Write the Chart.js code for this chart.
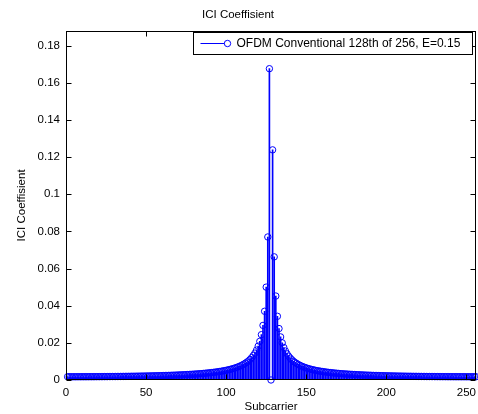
<!DOCTYPE html>
<html>
<head>
<meta charset="utf-8">
<title>ICI Coeffisient</title>
<script src="https://cdn.jsdelivr.net/npm/chart.js@4"></script>
<style>
  html, body { margin: 0; padding: 0; background: #fff; }
  canvas { display: block; }
</style>
</head>
<body>
<canvas id="chart" width="478" height="414"></canvas>
<script>
// subcarrier index 1..256 (the 128th is the desired one)
const subcarriers = Array.from({ length: 256 }, (_, i) => i + 1);

// ICI coefficient, one value per subcarrier
const iciCoefficient = [
  0.00175, 0.00175, 0.00175, 0.00175, 0.00175, 0.00175, 0.00176, 0.00176, 0.00176, 0.00176, 0.00177, 0.00177, 0.00177, 0.00178, 0.00178, 0.00178,
  0.00179, 0.00179, 0.00180, 0.00180, 0.00181, 0.00181, 0.00182, 0.00183, 0.00183, 0.00184, 0.00185, 0.00186, 0.00187, 0.00187, 0.00188, 0.00189,
  0.00190, 0.00191, 0.00192, 0.00193, 0.00195, 0.00196, 0.00197, 0.00198, 0.00200, 0.00201, 0.00202, 0.00204, 0.00205, 0.00207, 0.00209, 0.00210,
  0.00212, 0.00214, 0.00216, 0.00218, 0.00220, 0.00222, 0.00224, 0.00226, 0.00229, 0.00231, 0.00233, 0.00236, 0.00239, 0.00241, 0.00244, 0.00247,
  0.00250, 0.00254, 0.00257, 0.00260, 0.00264, 0.00268, 0.00272, 0.00276, 0.00280, 0.00284, 0.00289, 0.00294, 0.00299, 0.00304, 0.00309, 0.00315,
  0.00321, 0.00327, 0.00333, 0.00340, 0.00347, 0.00355, 0.00363, 0.00372, 0.00381, 0.00390, 0.00400, 0.00411, 0.00422, 0.00433, 0.00446, 0.00459,
  0.00473, 0.00488, 0.00504, 0.00522, 0.00540, 0.00560, 0.00582, 0.00606, 0.00632, 0.00660, 0.00691, 0.00725, 0.00763, 0.00805, 0.00852, 0.00905,
  0.00965, 0.0103, 0.0111, 0.0121, 0.0132, 0.0145, 0.0161, 0.0182, 0.0208, 0.0244, 0.0294, 0.0370, 0.0500, 0.0770, 0.1676, 0,
  0.1239, 0.0663, 0.0452, 0.0343, 0.0277, 0.0232, 0.0200, 0.0175, 0.0156, 0.0141, 0.0128, 0.0118, 0.0109, 0.0101, 0.00946, 0.00888,
  0.00837, 0.00792, 0.00751, 0.00714, 0.00681, 0.00651, 0.00624, 0.00599, 0.00576, 0.00554, 0.00535, 0.00516, 0.00499, 0.00484, 0.00471, 0.00457,
  0.00444, 0.00432, 0.00420, 0.00409, 0.00399, 0.00389, 0.00380, 0.00371, 0.00363, 0.00355, 0.00347, 0.00340, 0.00333, 0.00327, 0.00321, 0.00315,
  0.00309, 0.00304, 0.00299, 0.00294, 0.00289, 0.00284, 0.00280, 0.00276, 0.00272, 0.00268, 0.00264, 0.00260, 0.00257, 0.00254, 0.00250, 0.00247,
  0.00244, 0.00241, 0.00239, 0.00236, 0.00233, 0.00231, 0.00229, 0.00226, 0.00224, 0.00222, 0.00220, 0.00218, 0.00216, 0.00214, 0.00212, 0.00210,
  0.00209, 0.00207, 0.00205, 0.00204, 0.00202, 0.00201, 0.00200, 0.00198, 0.00197, 0.00196, 0.00195, 0.00193, 0.00192, 0.00191, 0.00190, 0.00189,
  0.00188, 0.00187, 0.00187, 0.00186, 0.00185, 0.00184, 0.00183, 0.00183, 0.00182, 0.00181, 0.00181, 0.00180, 0.00180, 0.00179, 0.00179, 0.00178,
  0.00178, 0.00178, 0.00177, 0.00177, 0.00177, 0.00176, 0.00176, 0.00176, 0.00176, 0.00175, 0.00175, 0.00175, 0.00175, 0.00175, 0.00175, 0.00175,
];

const xTicks = [0, 50, 100, 150, 200, 250];
const yTicks = [0, 0.02, 0.04, 0.06, 0.08, 0.1, 0.12, 0.14, 0.16, 0.18];
const seriesLabel = "OFDM Conventional 128th of 256, E=0.15";

const BLUE = "#0000ff";
const FONT = { family: "'Liberation Sans', Arial, sans-serif", size: 11.5 };

const points = subcarriers.map((x, i) => ({ x: x, y: iciCoefficient[i] }));

// box + inward ticks on all four sides, matlab style
const frame = {
  id: "frame",
  afterDatasetsDraw(chart) {
    const { ctx, chartArea: a, scales } = chart;
    const l = Math.round(a.left) + 0.5;
    const r = Math.round(a.right) - 0.5;
    const t = Math.round(a.top) + 0.5;
    const b = Math.round(a.bottom) - 0.5;
    ctx.save();
    ctx.strokeStyle = "#000";
    ctx.lineWidth = 1;
    ctx.strokeRect(l, t, r - l, b - t);
    ctx.beginPath();
    xTicks.forEach((v) => {
      const px = Math.round(scales.x.getPixelForValue(v)) + 0.5;
      ctx.moveTo(px, b); ctx.lineTo(px, b - 5);
      ctx.moveTo(px, t); ctx.lineTo(px, t + 5);
    });
    yTicks.forEach((v) => {
      const py = Math.round(scales.y.getPixelForValue(v)) + 0.5;
      ctx.moveTo(l, py); ctx.lineTo(l + 5, py);
      ctx.moveTo(r, py); ctx.lineTo(r - 5, py);
    });
    ctx.stroke();
    ctx.restore();
  },
};

// legend box inside the top right corner of the axes
const legendBox = {
  id: "legendBox",
  afterDraw(chart) {
    const { ctx, chartArea: a } = chart;
    const right = Math.round(a.right) - 3.5;
    const top = Math.round(a.top) + 1.5;
    const left = 193.5;
    const h = 22;
    const cy = top + h / 2;
    ctx.save();
    ctx.fillStyle = "#fff";
    ctx.fillRect(left, top, right - left, h);
    ctx.strokeStyle = "#000";
    ctx.lineWidth = 1;
    ctx.strokeRect(left, top, right - left, h);
    ctx.strokeStyle = BLUE;
    ctx.beginPath();
    ctx.moveTo(left + 7, cy);
    ctx.lineTo(left + 31, cy);
    ctx.stroke();
    ctx.beginPath();
    ctx.arc(left + 34, cy, 3.2, 0, Math.PI * 2);
    ctx.stroke();
    ctx.fillStyle = "#000";
    ctx.font = "12px 'Liberation Sans', Arial, sans-serif";
    ctx.textBaseline = "middle";
    ctx.textAlign = "left";
    ctx.fillText(seriesLabel, left + 43, cy + 0.5);
    ctx.restore();
  },
};

new Chart(document.getElementById("chart"), {
  type: "scatter",
  data: {
    datasets: [
      {
        type: "scatter",
        label: seriesLabel,
        data: points,
        pointStyle: "circle",
        pointRadius: 3.2,
        borderColor: BLUE,
        backgroundColor: "rgba(0,0,0,0)",
        borderWidth: 1,
        clip: false,
        order: 0,
      },
      {
        type: "bar",
        label: "stems",
        data: points,
        backgroundColor: BLUE,
        borderWidth: 0,
        barThickness: 1,
        order: 1,
      },
    ],
  },
  options: {
    responsive: false,
    animation: false,
    devicePixelRatio: 1,
    layout: { autoPadding: false, padding: { left: 0, right: 2, top: 0, bottom: 0 } },
    plugins: {
      legend: { display: false },
      tooltip: { enabled: false },
      title: {
        display: true,
        text: "ICI Coeffisient",
        color: "#000",
        font: { ...FONT, weight: "normal" },
        padding: { top: 8, bottom: 9 },
      },
    },
    scales: {
      x: {
        type: "linear",
        min: 0,
        max: 256,
        offset: false,
        grid: { display: false, drawTicks: false },
        border: { display: false },
        ticks: { color: "#000", font: FONT, padding: 6, maxRotation: 0 },
        title: { display: true, text: "Subcarrier", color: "#000", font: FONT, padding: { top: 0, bottom: 0 } },
        afterBuildTicks(scale) { scale.ticks = xTicks.map((v) => ({ value: v })); },
        afterFit(scale) {
          scale.height = 34;
          scale.paddingLeft = 0;
          scale.paddingRight = 0;
        },
      },
      y: {
        type: "linear",
        min: 0,
        max: 0.188,
        grid: { display: false, drawTicks: false },
        border: { display: false },
        ticks: { color: "#000", font: FONT, padding: 6, callback: (v) => String(+v.toFixed(2)) },
        title: { display: true, text: "ICI Coeffisient", color: "#000", font: FONT, padding: { top: 15, bottom: 0 } },
        afterBuildTicks(scale) { scale.ticks = yTicks.map((v) => ({ value: v })); },
        afterFit(scale) {
          scale.width = 66;
          scale.paddingTop = 0;
          scale.paddingBottom = 0;
        },
      },
    },
  },
  plugins: [frame, legendBox],
});
</script>
</body>
</html>
